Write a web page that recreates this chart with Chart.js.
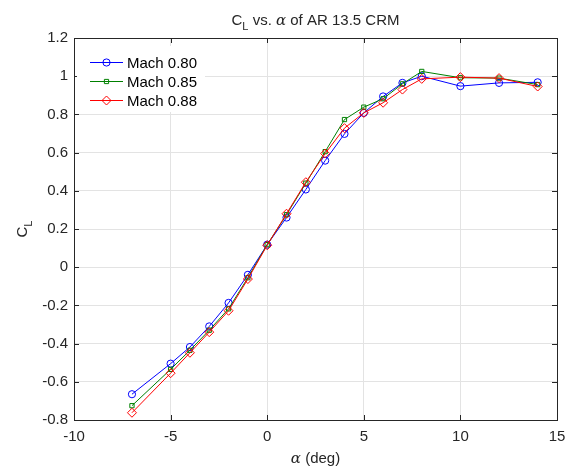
<!doctype html>
<html lang="en">

<head>
  <meta charset="utf-8">
  <script src="https://cdn.jsdelivr.net/npm/chart.js@4.4.0/dist/chart.umd.min.js"></script>
  <title>CL vs alpha</title>
  <style>
    html, body { margin: 0; padding: 0; background: #fff; }
    #wrap { width: 566px; height: 466px; }
  </style>
</head>

<body>
  <div id="wrap">
    <canvas id="myChart" width="566" height="466"></canvas>
  </div>
  <script>
    // angle of attack (deg)
    const alpha = [-7, -5, -4, -3, -2, -1, 0, 1, 2, 3, 4, 5, 6, 7, 8, 10, 12, 14];
    // lift coefficient per Mach number
    const cl080 = [-0.665, -0.505, -0.418, -0.31, -0.187, -0.04, 0.118, 0.26, 0.407, 0.558, 0.698, 0.808, 0.894, 0.965, 1.0, 0.948, 0.965, 0.968];
    const cl085 = [-0.725, -0.535, -0.435, -0.33, -0.218, -0.055, 0.118, 0.275, 0.44, 0.605, 0.773, 0.838, 0.882, 0.96, 1.025, 0.992, 0.99, 0.956];
    const cl088 = [-0.762, -0.555, -0.448, -0.34, -0.228, -0.062, 0.115, 0.28, 0.445, 0.595, 0.728, 0.808, 0.861, 0.93, 0.986, 0.995, 0.99, 0.946];
    const seriesNames = ['Mach 0.80', 'Mach 0.85', 'Mach 0.88'];
    const xTicks = [-10, -5, 0, 5, 10, 15];
    const yTicks = [-0.8, -0.6, -0.4, -0.2, 0, 0.2, 0.4, 0.6, 0.8, 1, 1.2];

    const FONT = 'Liberation Sans, Arial, sans-serif';
    const AXIS = '#262626';

    function pts(ys) {
      return alpha.map((a, i) => ({ x: a, y: ys[i] }));
    }

    function mkSet(label, ys, color, style, r, order) {
      return {
        label: label,
        data: pts(ys),
        borderColor: color,
        backgroundColor: 'rgba(0,0,0,0)',
        borderWidth: 1,
        pointStyle: style,
        pointRadius: r,
        pointBorderColor: color,
        pointBackgroundColor: 'rgba(0,0,0,0)',
        pointBorderWidth: 1,
        tension: 0,
        order: order
      };
    }

    const datasets = [
      mkSet(seriesNames[0], cl080, '#0000ff', 'circle', 3.6, 3),
      mkSet(seriesNames[1], cl085, '#008000', 'rect', 3, 2),
      mkSet(seriesNames[2], cl088, '#ff0000', 'rectRot', 4.5, 1)
    ];

    function drawParts(ctx, parts, cx, y) {
      let w = 0;
      parts.forEach(p => { ctx.font = p.f; w += ctx.measureText(p.t).width; });
      let x = cx - w / 2;
      ctx.textAlign = 'left';
      parts.forEach(p => {
        ctx.font = p.f;
        ctx.fillText(p.t, x, y + p.dy);
        x += ctx.measureText(p.t).width;
      });
    }

    // title, axis labels, inward ticks and the legend (matlab style)
    const decor = {
      id: 'decor',
      afterDraw(chart) {
        const ctx = chart.ctx;
        const a = chart.chartArea;
        const xs = chart.scales.x, ys = chart.scales.y;
        ctx.save();

        // inward ticks on all four sides
        ctx.strokeStyle = AXIS;
        ctx.lineWidth = 1;
        ctx.beginPath();
        xTicks.forEach(v => {
          const px = Math.round(xs.getPixelForValue(v)) + 0.5;
          ctx.moveTo(px, a.bottom); ctx.lineTo(px, a.bottom - 5);
          ctx.moveTo(px, a.top); ctx.lineTo(px, a.top + 5);
        });
        yTicks.forEach(v => {
          const py = Math.round(ys.getPixelForValue(v)) + 0.5;
          ctx.moveTo(a.left, py); ctx.lineTo(a.left + 5, py);
          ctx.moveTo(a.right, py); ctx.lineTo(a.right - 5, py);
        });
        ctx.stroke();

        ctx.fillStyle = AXIS;
        ctx.textBaseline = 'alphabetic';

        // title: C_L vs. alpha of AR 13.5 CRM
        const cx = (a.left + a.right) / 2;
        drawParts(ctx, [
          { t: 'C', f: '15px ' + FONT, dy: 0 },
          { t: 'L', f: '11px ' + FONT, dy: 5 },
          { t: ' vs. ', f: '15px ' + FONT, dy: 0 },
          { t: 'α', f: 'italic 15px DejaVu Serif, serif', dy: 0 },
          { t: ' of AR 13.5 CRM', f: '15px ' + FONT, dy: 0 }
        ], cx, 25);

        // x label
        drawParts(ctx, [
          { t: 'α', f: 'italic 15px DejaVu Serif, serif', dy: 0 },
          { t: ' (deg)', f: '15px ' + FONT, dy: 0 }
        ], cx, 463);

        // y label
        ctx.save();
        ctx.translate(27, (a.top + a.bottom) / 2);
        ctx.rotate(-Math.PI / 2);
        drawParts(ctx, [
          { t: 'C', f: '15px ' + FONT, dy: 0 },
          { t: 'L', f: '11px ' + FONT, dy: 5 }
        ], 0, 0);
        ctx.restore();

        // legend (white box, no border)
        ctx.fillStyle = '#fff';
        ctx.fillRect(a.left + 3, a.top + 8, 128, 66);
        const lx = a.left + 16, ly = a.top + 23.5;
        chart.data.datasets.forEach((ds, i) => {
          const y = Math.round(ly + i * 19.2) + 0.5;
          ctx.strokeStyle = ds.borderColor;
          ctx.lineWidth = 1;
          ctx.beginPath();
          ctx.moveTo(lx, y); ctx.lineTo(lx + 33, y);
          ctx.stroke();
          ctx.fillStyle = 'rgba(0,0,0,0)';
          Chart.helpers.drawPoint(ctx, {
            pointStyle: ds.pointStyle, radius: ds.pointRadius, borderWidth: 1, rotation: 0
          }, lx + 16.5, y);
          ctx.fillStyle = '#000';
          ctx.font = '15px ' + FONT;
          ctx.textAlign = 'left';
          ctx.textBaseline = 'middle';
          ctx.fillText(ds.label, lx + 37, y + 1);
        });

        ctx.restore();
      }
    };

    // fixed plot box: no automatic padding for overhanging tick labels
    function noPad(s) {
      s.paddingLeft = 0; s.paddingRight = 0; s.paddingTop = 0; s.paddingBottom = 0;
    }

    const config = {
      type: 'line',
      data: { datasets: datasets },
      options: {
        responsive: false,
        animation: false,
        layout: { padding: { top: 38, right: 9, left: 0, bottom: 0 } },
        plugins: {
          legend: { display: false },
          tooltip: { enabled: false },
          title: { display: false }
        },
        scales: {
          x: {
            type: 'linear',
            min: -10,
            max: 15,
            afterBuildTicks: s => { s.ticks = xTicks.map(v => ({ value: v })); },
            afterFit: s => { s.height = 46; noPad(s); },
            grid: { color: '#e3e3e3', drawTicks: false },
            border: { color: AXIS, width: 1 },
            ticks: { color: AXIS, padding: 8, maxRotation: 0, font: { family: FONT, size: 15 } }
          },
          y: {
            type: 'linear',
            min: -0.8,
            max: 1.2,
            afterBuildTicks: s => { s.ticks = yTicks.map(v => ({ value: v })); },
            afterFit: s => { s.width = 74; noPad(s); },
            grid: { color: '#e3e3e3', drawTicks: false },
            border: { color: AXIS, width: 1 },
            ticks: {
              color: AXIS, padding: 6, font: { family: FONT, size: 15 },
              callback: v => String(parseFloat(v.toFixed(1)))
            }
          },
          x2: {
            type: 'linear', position: 'top', min: -10, max: 15,
            afterFit: s => { s.height = 0; noPad(s); },
            grid: { display: false }, ticks: { display: false },
            border: { color: AXIS, width: 1 }
          },
          y2: {
            type: 'linear', position: 'right', min: -0.8, max: 1.2,
            afterFit: s => { s.width = 0; noPad(s); },
            grid: { display: false }, ticks: { display: false },
            border: { color: AXIS, width: 1 }
          }
        }
      },
      plugins: [decor]
    };

    const ctx = document.getElementById('myChart').getContext('2d');
    const myChart = new Chart(ctx, config);
  </script>
</body>

</html>
